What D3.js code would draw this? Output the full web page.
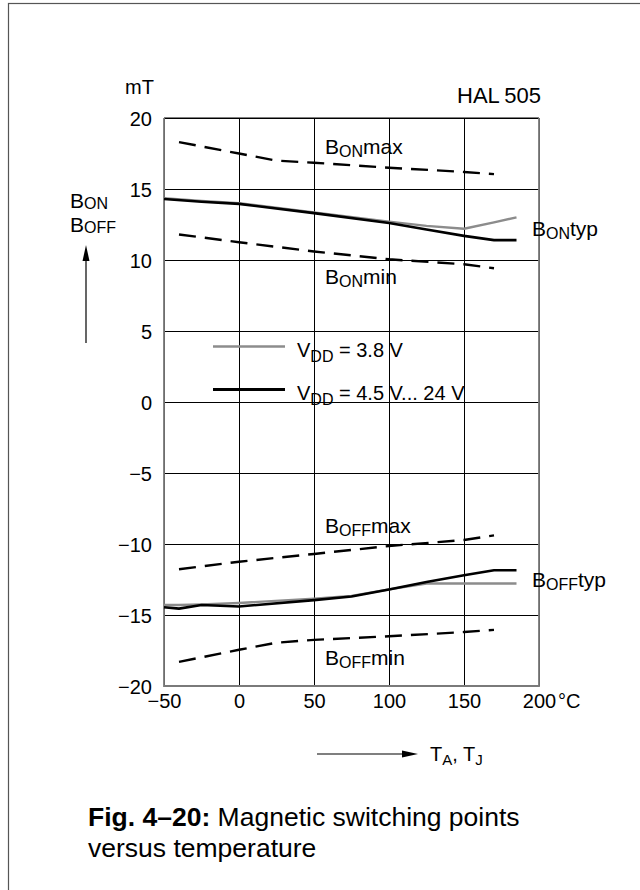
<!DOCTYPE html>
<html>
<head>
<meta charset="utf-8">
<script src="https://cdn.jsdelivr.net/npm/d3@7"></script>
<style>
  html, body { margin: 0; padding: 0; background: #fff; }
  svg { display: block; font-family: "Liberation Sans", Arial, Helvetica, sans-serif; }
</style>
</head>
<body>
<svg id="chart" width="640" height="890"></svg>
<script>
// ---- data ----
const xTicks = [-50, 0, 50, 100, 150, 200];
const yTicks = [-20, -15, -10, -5, 0, 5, 10, 15, 20];

const tMax = [-40, 0, 25, 50, 100, 150, 170];
const bonMax = [18.3, 17.5, 17.0, 16.85, 16.5, 16.2, 16.05];
const boffMin = [-18.3, -17.45, -16.95, -16.75, -16.5, -16.2, -16.05];

const tMin = [-40, 0, 50, 100, 150, 170];
const bonMin = [11.8, 11.25, 10.6, 10.05, 9.7, 9.42];
const boffMax = [-11.78, -11.25, -10.7, -10.14, -9.72, -9.39];

const tOnTyp = [-50, -25, 0, 50, 100, 125, 150, 170, 185];
const bonTypHigh = [14.3, 14.1, 13.95, 13.3, 12.6, 12.15, 11.7, 11.4, 11.4];
const bonTyp38 = [14.35, 14.15, 14.0, 13.35, 12.7, 12.4, 12.2, 12.65, 13.0];

const tOffTyp = [-50, -40, -25, 0, 50, 75, 100, 125, 150, 170, 185];
const boffTypHigh = [-14.45, -14.55, -14.3, -14.4, -13.95, -13.7, -13.2, -12.68, -12.2, -11.85, -11.85];
const boffTyp38 = [-14.3, -14.3, -14.25, -14.15, -13.85, -13.65, -13.2, -12.78, -12.78, -12.78, -12.78];

const legendLabels = ["= 3.8 V", "= 4.5 V... 24 V"];

// ---- layout ----
const svg = d3.select("#chart");
const L = 164, R = 539, T = 118, B = 686;
const x = d3.scaleLinear().domain([-50, 200]).range([L, R]);
const y = d3.scaleLinear().domain([-20, 20]).range([B, T]);
const FONT = 20;
const LFONT = 21;

// outer frame
svg.append("rect").attr("x", 8.5).attr("y", 3.5).attr("width", 700).attr("height", 1000)
  .attr("fill", "none").attr("stroke", "#555").attr("stroke-width", 1.2);

// grid via axes
const gx = svg.append("g").attr("transform", `translate(0,${B})`)
  .call(d3.axisBottom(x).tickValues(xTicks).tickSize(-(B - T)).tickPadding(8)
        .tickFormat(d => d3.format("")(d)));
const gy = svg.append("g").attr("transform", `translate(${L},0)`)
  .call(d3.axisLeft(y).tickValues(yTicks).tickSize(-(R - L)).tickPadding(12)
        .tickFormat(d => d3.format("")(d)));
[gx, gy].forEach(g => {
  g.select(".domain").remove();
  g.selectAll(".tick line").attr("stroke", "#000").attr("stroke-width", 1);
  g.selectAll(".tick text").attr("fill", "#000").attr("font-size", FONT)
    .attr("font-family", "Liberation Sans, Arial, sans-serif");
});
gy.selectAll(".tick text").attr("dy", "0.36em");

// plot frame
svg.append("line").attr("x1", L).attr("x2", R).attr("y1", T).attr("y2", T).attr("stroke", "#000").attr("stroke-width", 1.2);
svg.append("path").attr("d", `M${L},${T}V${B}H${R}V${T}`).attr("fill", "none")
  .attr("stroke", "#7a7a7a").attr("stroke-width", 1.8);

// °C unit
svg.append("text").attr("x", x(200) + 19).attr("y", 708).attr("font-size", FONT).text("°C");

// lines
const line = d3.line().x(d => x(d[0])).y(d => y(d[1]));
const zip = (a, b) => a.map((v, i) => [v, b[i]]);
function draw(ts, vs, color, w, dash) {
  const p = svg.append("path").attr("d", line(zip(ts, vs))).attr("fill", "none")
    .attr("stroke", color).attr("stroke-width", w).attr("stroke-linejoin", "round");
  if (dash) p.attr("stroke-dasharray", dash);
}
const DASH = "17,9";
draw(tMax, bonMax, "#000", 2.4, DASH);
draw(tMax, boffMin, "#000", 2.4, DASH);
draw(tMin, bonMin, "#000", 2.4, DASH);
draw(tMin, boffMax, "#000", 2.4, DASH);
draw(tOnTyp, bonTyp38, "#8c8c8c", 2.4);
draw(tOffTyp, boffTyp38, "#8c8c8c", 2.4);
draw(tOnTyp, bonTypHigh, "#000", 2.6);
draw(tOffTyp, boffTypHigh, "#000", 2.6);

// labels with subscripts
function label(px, py, main, sub, tail, size, subSize, shift) {
  const t = svg.append("text").attr("x", px).attr("y", py).attr("font-size", size || LFONT);
  t.append("tspan").text(main);
  t.append("tspan").attr("font-size", subSize || 16).attr("dy", shift || 3).text(sub);
  if (tail) t.append("tspan").attr("dy", -(shift || 3)).text(tail);
  return t;
}
label(325, 154, "B", "ON", "max");
label(532, 236, "B", "ON", "typ");
label(325, 284, "B", "ON", "min");
label(325, 533, "B", "OFF", "max");
label(532, 587, "B", "OFF", "typ");
label(325, 665, "B", "OFF", "min");

// y-axis name
label(70, 208, "B", "ON", null, LFONT, 16, 1);
label(70, 232, "B", "OFF", null, LFONT, 16, 1);
svg.append("line").attr("x1", 86).attr("x2", 86).attr("y1", 258).attr("y2", 343).attr("stroke", "#000").attr("stroke-width", 1.2);
svg.append("path").attr("d", "M86,245L82.5,261L89.5,261Z").attr("fill", "#000");

// mT and HAL 505
svg.append("text").attr("x", 125).attr("y", 94).attr("font-size", FONT).text("mT");
svg.append("text").attr("x", 457).attr("y", 103).attr("font-size", 22).text("HAL\u2009505");

// legend
const legY = [346.5, 389.5];
const legColor = ["#8c8c8c", "#000"];
legY.forEach((ly, i) => {
  svg.append("line").attr("x1", 213).attr("x2", 285).attr("y1", ly).attr("y2", ly)
    .attr("stroke", legColor[i]).attr("stroke-width", i ? 3 : 2.5);
  const t = svg.append("text").attr("x", 297).attr("y", ly + 10).attr("font-size", FONT);
  t.append("tspan").text("V");
  t.append("tspan").attr("font-size", 16).attr("dy", 5).text("DD");
  t.append("tspan").attr("dy", -5).text(" " + legendLabels[i]);
});

// x-axis name
svg.append("line").attr("x1", 317).attr("x2", 405).attr("y1", 754).attr("y2", 754).attr("stroke", "#000").attr("stroke-width", 1.2);
svg.append("path").attr("d", "M418,754L402,750.5L402,757.5Z").attr("fill", "#000");
const tx = svg.append("text").attr("x", 430).attr("y", 761).attr("font-size", 20);
tx.append("tspan").text("T");
tx.append("tspan").attr("font-size", 15).attr("dy", 4).text("A");
tx.append("tspan").attr("dy", -4).text(", T");
tx.append("tspan").attr("font-size", 15).attr("dy", 4).text("J");

// caption
const cap = svg.append("text").attr("x", 88).attr("y", 826).attr("font-size", 26.5);
cap.append("tspan").attr("font-weight", "bold").text("Fig. 4–20:");
cap.append("tspan").text(" Magnetic switching points");
svg.append("text").attr("x", 88).attr("y", 857).attr("font-size", 26.5).text("versus temperature");
</script>
</body>
</html>
